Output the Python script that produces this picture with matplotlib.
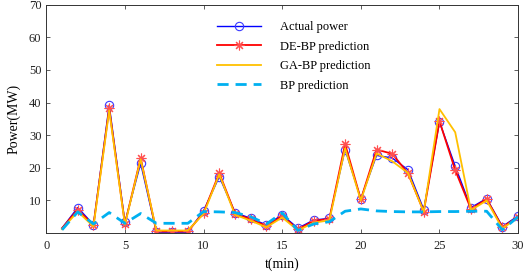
import matplotlib.pyplot as plt

# time axis (min)
t = list(range(1, 31))

actual = [1.5, 7.8, 2.6, 39.2, 3.3, 21.4, 0.3, 0.3, 0.3, 6.8,
          17.3, 6.3, 4.5, 2.5, 5.6, 1.5, 4.0, 4.5, 25.6, 10.5,
          23.8, 23.0, 19.4, 7.2, 34.1, 20.5, 7.8, 10.6, 2.0, 5.3]
de_bp = [1.5, 7.2, 2.4, 38.2, 2.8, 23.0, 0.5, 0.5, 0.5, 6.3,
         18.4, 6.0, 4.2, 2.2, 5.2, 1.2, 3.7, 4.4, 27.3, 10.3,
         25.6, 24.3, 18.3, 6.6, 34.3, 19.3, 7.4, 10.4, 1.8, 5.0]
ga_bp = [1.2, 6.6, 2.0, 37.6, 2.6, 22.6, 0.8, 0.8, 0.8, 5.9,
         18.0, 5.6, 3.8, 1.8, 4.8, 0.8, 3.2, 3.9, 26.0, 10.0,
         24.4, 22.0, 18.4, 6.5, 38.0, 30.9, 7.0, 10.0, 1.4, 4.8]
bp = [1.0, 6.5, 2.8, 6.3, 3.0, 6.0, 3.0, 3.0, 3.0, 6.6,
      6.5, 6.3, 5.0, 2.8, 6.2, 0.8, 2.8, 3.5, 6.7, 7.4,
      6.8, 6.6, 6.5, 6.5, 6.6, 6.6, 6.7, 6.7, 1.0, 5.0]

plt.rcParams['font.family'] = ['Liberation Serif', 'DejaVu Serif']
plt.rcParams['font.size'] = 9

fig = plt.figure(figsize=(5.26, 2.72), dpi=100)
ax = fig.add_axes([0.088, 0.143, 0.897, 0.84])

ax.plot(t, actual, color='#0000ff', linewidth=1.0, marker='o', markersize=6,
        markerfacecolor='none', markeredgecolor='#3a3aff', markeredgewidth=0.8,
        markevery=slice(1, None), label='Actual power')
ax.plot(t, de_bp, color='#ff0000', linewidth=1.3, marker=(8, 2, 0), markersize=7,
        markeredgecolor='#ff5050', markeredgewidth=0.8,
        markevery=slice(1, None), label='DE-BP prediction')
ax.plot(t, ga_bp, color='#ffc000', linewidth=1.3, label='GA-BP prediction')
ax.plot(t, bp, color='#00b0f0', linewidth=2.0, linestyle=(0, (4, 2.5)),
        label='BP prediction')

ax.set_xlim(0, 30)
ax.set_ylim(0, 70)
ax.set_xticks(range(0, 31, 5))
ax.set_yticks(range(10, 71, 10))
ax.tick_params(direction='in', top=True, right=True, labelright=False,
               labeltop=False, length=3, width=0.6, color='#444444',
               labelcolor='#222222')
ax.tick_params(axis='x', pad=5)
for sp in ax.spines.values():
    sp.set_linewidth(0.7)
    sp.set_color('#333333')

ax.set_xlabel('t(min)', fontsize=10, labelpad=4)
ax.set_ylabel('Power(MW)', fontsize=10, labelpad=6)

ax.legend(loc='upper left', bbox_to_anchor=(0.349, 0.955), frameon=False,
          handlelength=3.5, handletextpad=1.5, labelspacing=0.6,
          borderpad=0, fontsize=9)

fig.savefig('out.png', dpi=100)
